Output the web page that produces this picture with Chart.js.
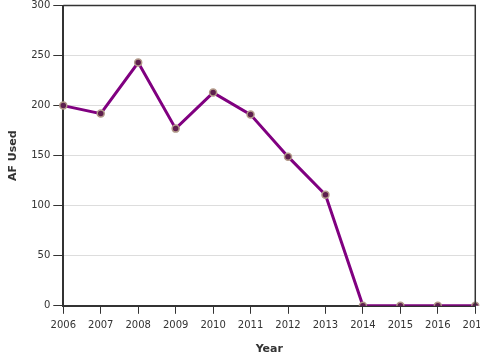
<!DOCTYPE html>
<html>
<head>
<meta charset="utf-8">
<script src="https://cdn.jsdelivr.net/npm/chart.js@4"></script>
<style>
  html, body { margin: 0; padding: 0; background: #fff; overflow: hidden; }
  #wrap { width: 494px; height: 360px; }
</style>
</head>
<body>
<div id="wrap"><canvas id="chart"></canvas></div>
<script>
// AF Used per year
const years = ['2006', '2007', '2008', '2009', '2010', '2011', '2012', '2013', '2014', '2015', '2016', '2017'];
const afUsed = [200, 192, 243, 177, 213, 191, 149, 111, 0, 0, 0, 0];

const axisFont = { family: 'DejaVu Sans', size: 10 };
const titleFont = { family: 'DejaVu Sans', size: 11, weight: 'bold' };

// draw the box round the plot area
const frame = {
    id: 'frame',
    afterDatasetsDraw(chart) {
        const a = chart.chartArea;
        const ctx = chart.ctx;
        ctx.save();
        ctx.strokeStyle = '#333';
        ctx.lineWidth = 1.5;
        ctx.beginPath();
        ctx.moveTo(a.left, a.top);
        ctx.lineTo(a.right, a.top);
        ctx.lineTo(a.right, a.bottom);
        ctx.stroke();
        ctx.restore();
    }
};

new Chart(document.getElementById('chart'), {
    type: 'line',
    data: {
        labels: years,
        datasets: [{
            label: 'AF Used',
            data: afUsed,
            borderColor: '#800080',
            borderWidth: 3,
            pointRadius: 3.5,
            pointBackgroundColor: '#5e1f4e',
            pointBorderColor: '#b39a8a',
            pointBorderWidth: 1.5,
            tension: 0
        }]
    },
    options: {
        responsive: true,
        maintainAspectRatio: false,
        animation: false,
        layout: { padding: { top: 4, left: 3 } },
        plugins: {
            legend: { display: false },
            tooltip: { enabled: false }
        },
        scales: {
            x: {
                offset: false,
                grid: { drawOnChartArea: false, color: '#333', tickColor: '#333', tickLength: 8 },
                border: { color: '#333', width: 2 },
                ticks: { color: '#333', font: axisFont, padding: 6, maxRotation: 0, autoSkip: false },
                title: { display: true, text: 'Year', color: '#333', font: titleFont, padding: { top: 5 } }
            },
            y: {
                min: 0,
                max: 300,
                afterFit(scale) {
                    // let the top label hang over the edge like the original
                    scale.paddingTop = 0;
                },
                grid: {
                    color: '#ddd',
                    tickColor: '#333',
                    tickLength: 10
                },
                border: { color: '#333', width: 2 },
                ticks: { stepSize: 50, color: '#333', font: axisFont, padding: 3 },
                title: { display: true, text: 'AF Used', color: '#333', font: titleFont, padding: { bottom: 8 } }
            }
        }
    },
    plugins: [frame]
});
</script>
</body>
</html>
